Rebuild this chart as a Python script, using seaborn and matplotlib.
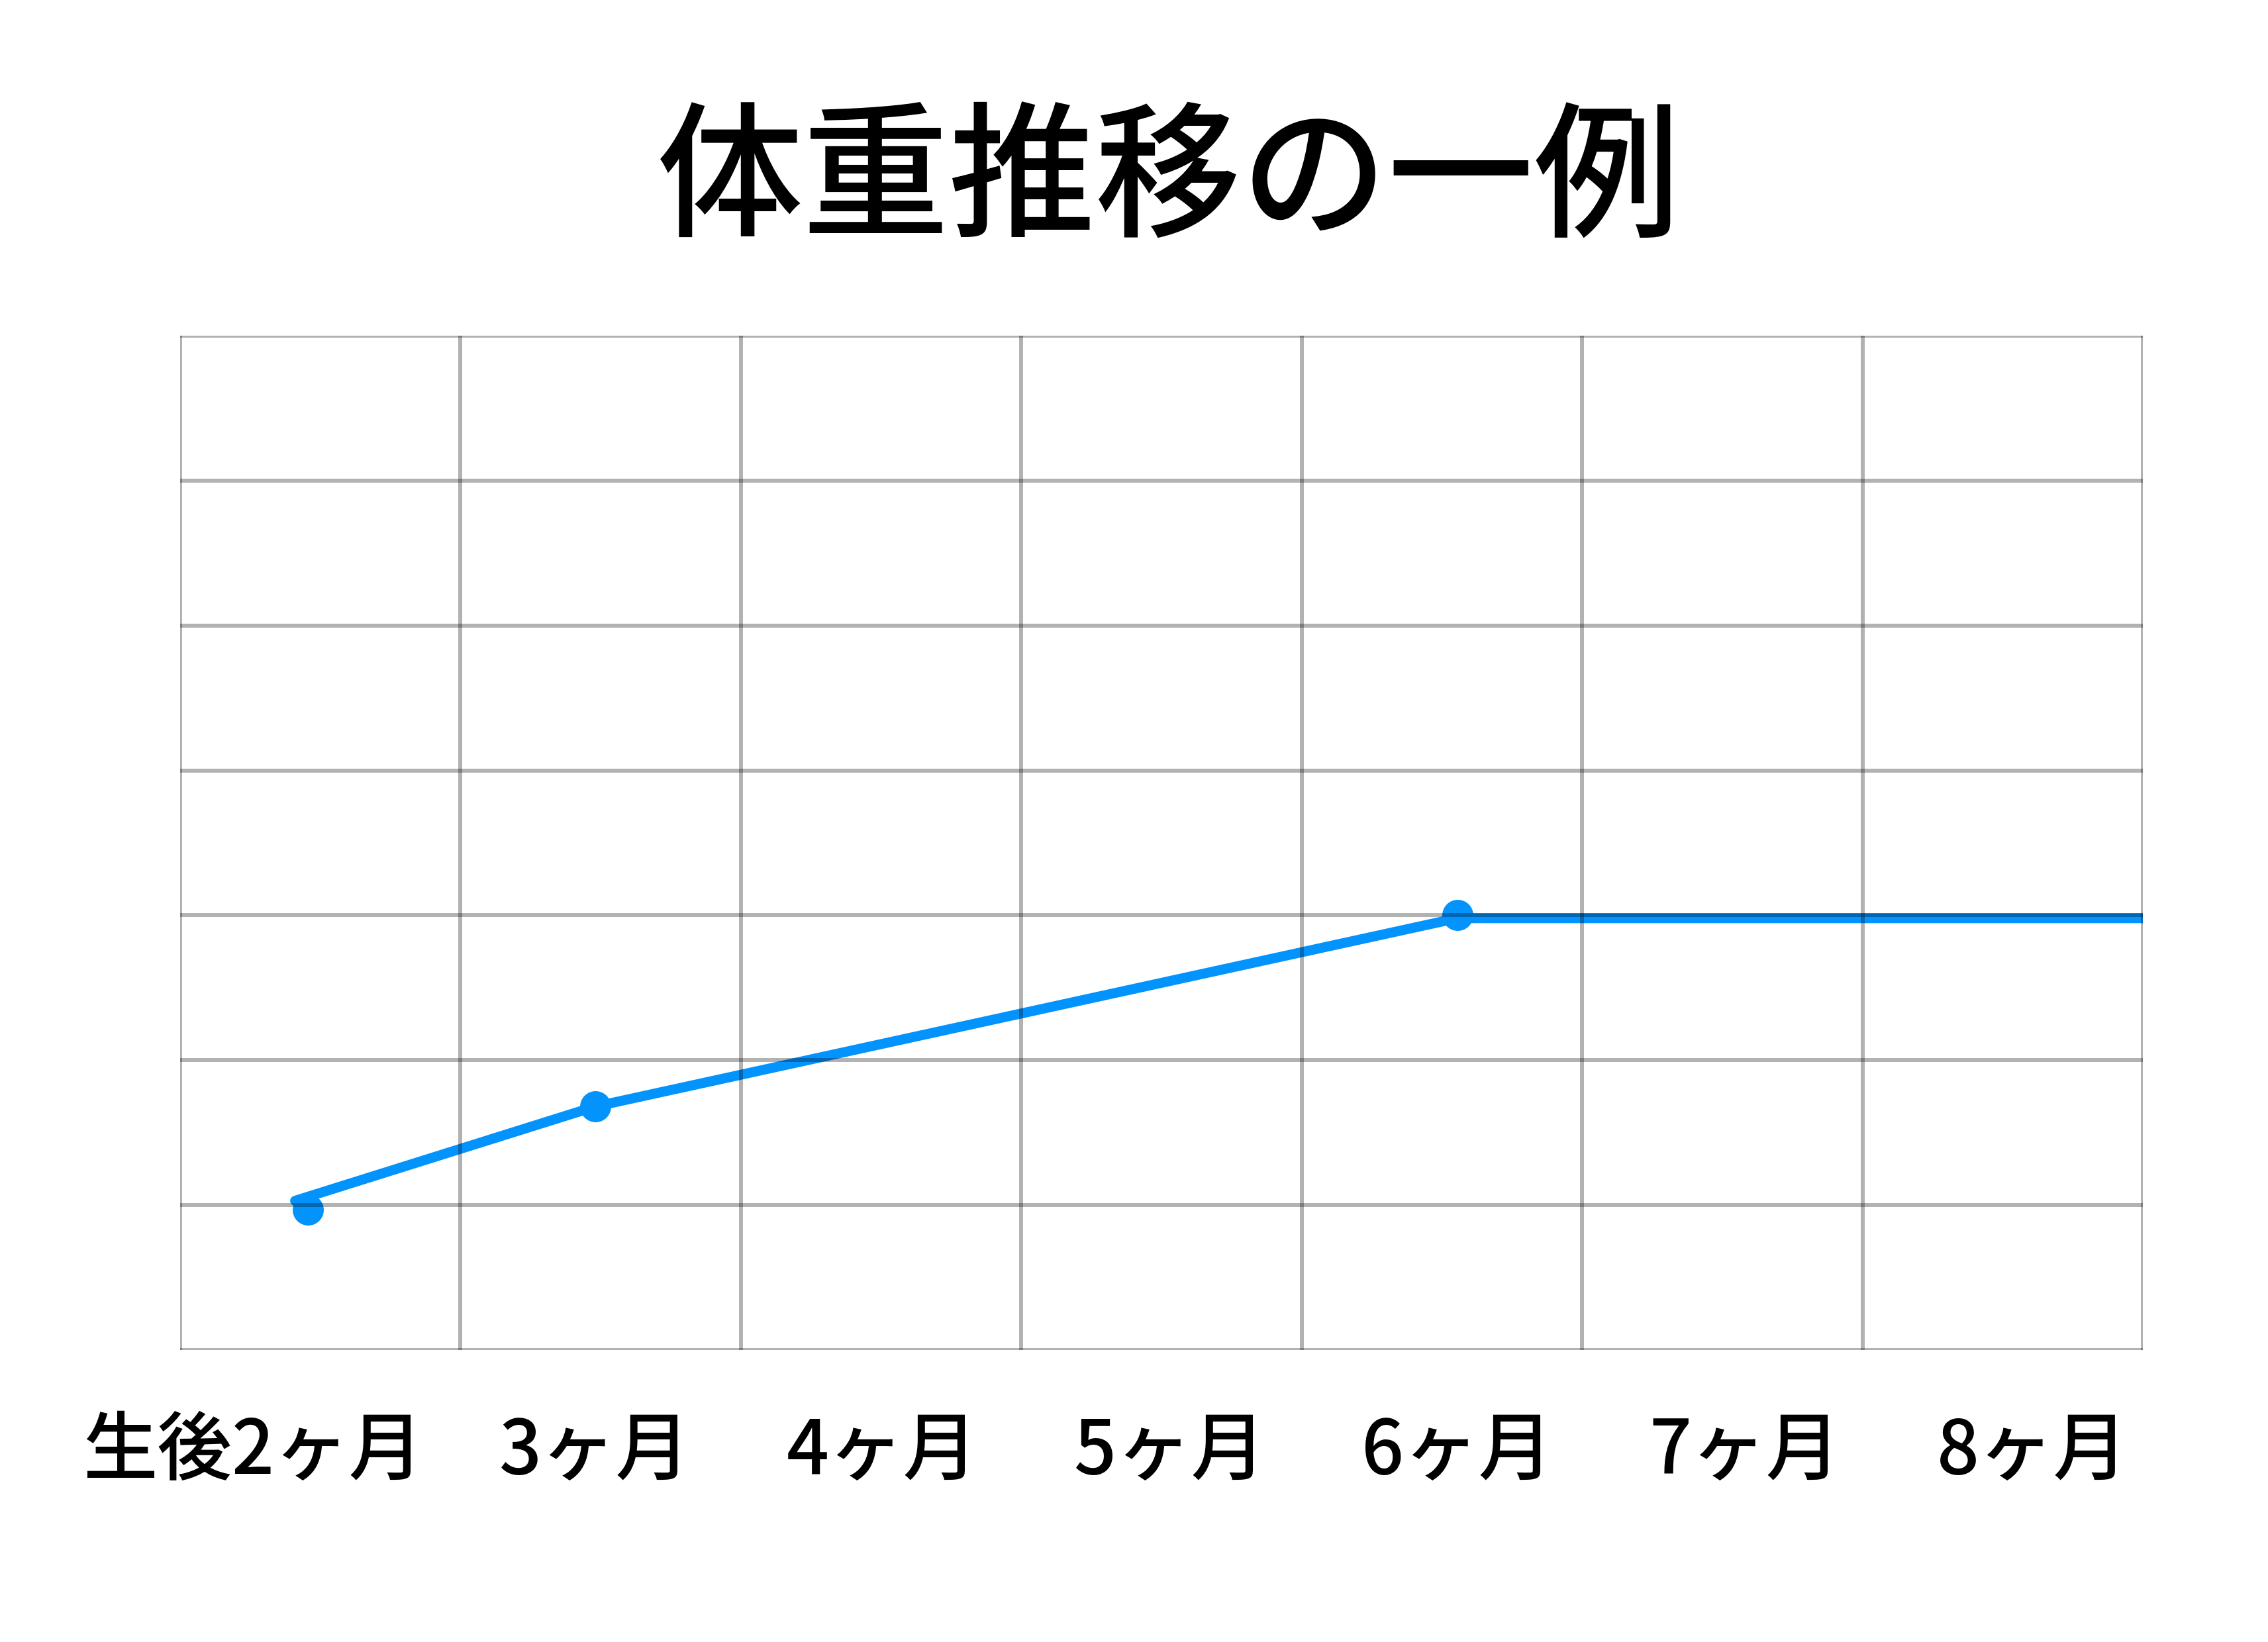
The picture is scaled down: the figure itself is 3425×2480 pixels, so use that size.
import numpy as np
import pandas as pd
import matplotlib
matplotlib.use("Agg")
import matplotlib.pyplot as plt
import matplotlib.transforms as mtransforms
import seaborn as sns

# ---- data ----
title = "体重推移の一例"
tick_months = [2, 3, 4, 5, 6, 7, 8]
tick_labels = ["生後2ヶ月", "3ヶ月", "4ヶ月", "5ヶ月", "6ヶ月", "7ヶ月", "8ヶ月"]
point_months = [2, 3, 6]
point_weights = [0.97, 1.68, 3.0]
line_months = [1.956, 3, 6, 8.385]
line_weights = [1.03, 1.68, 2.98, 2.98]

sns.set_theme(style="white")
plt.rcParams["font.family"] = ["Noto Sans CJK JP", "DejaVu Sans"]

DPI = 100
fig = plt.figure(figsize=(34.25, 24.8), dpi=DPI)
ax = fig.add_axes([272 / 3425, 1 - 2039 / 2480, (3236 - 272) / 3425, (2039 - 507) / 2480])

blue = "#0393FD"
xlim = (1.556, 8.385)
ylim = (0, 7)

line_df = pd.DataFrame({"month": line_months, "weight": line_weights})
pt_df = pd.DataFrame({"month": point_months, "weight": point_weights})

sns.lineplot(data=line_df, x="month", y="weight", ax=ax, color=blue,
             linewidth=10.8, sort=False, zorder=2)
sns.scatterplot(data=pt_df, x="month", y="weight", ax=ax, color=blue,
                s=33.8 ** 2, linewidth=0, zorder=2)

ax.set_xlim(*xlim)
ax.set_ylim(*ylim)

# grid: 7 x 7 cells
ax.set_xticks(np.linspace(xlim[0], xlim[1], 8))
ax.set_yticks(np.arange(0, 8))
ax.set_xticklabels([])
ax.set_yticklabels([])
ax.set_xticks(tick_months, minor=True)
ax.set_xticklabels(tick_labels, minor=True, fontsize=81, color="black",
                   fontweight="medium")
ax.tick_params(axis="x", which="both", length=0)
ax.tick_params(axis="x", which="minor", pad=70)
ax.tick_params(axis="y", length=0)
ax.grid(True, which="major", color="black", alpha=0.3, linewidth=4.32)
ax.set_axisbelow(False)
for s in ax.spines.values():
    s.set_visible(False)
ax.set_xlabel("")
ax.set_ylabel("")

# shift first label to the left like the reference
lbl0 = ax.get_xticklabels(minor=True)[0]
off = mtransforms.ScaledTranslation(-82 / DPI, 0, fig.dpi_scale_trans)
lbl0.set_transform(lbl0.get_transform() + off)

fig.text(1765 / 3425, 1 - 277 / 2480, title, ha="center", va="center",
         fontsize=159, color="black", fontweight="medium")

fig.savefig("out.png", dpi=DPI, facecolor="white")
